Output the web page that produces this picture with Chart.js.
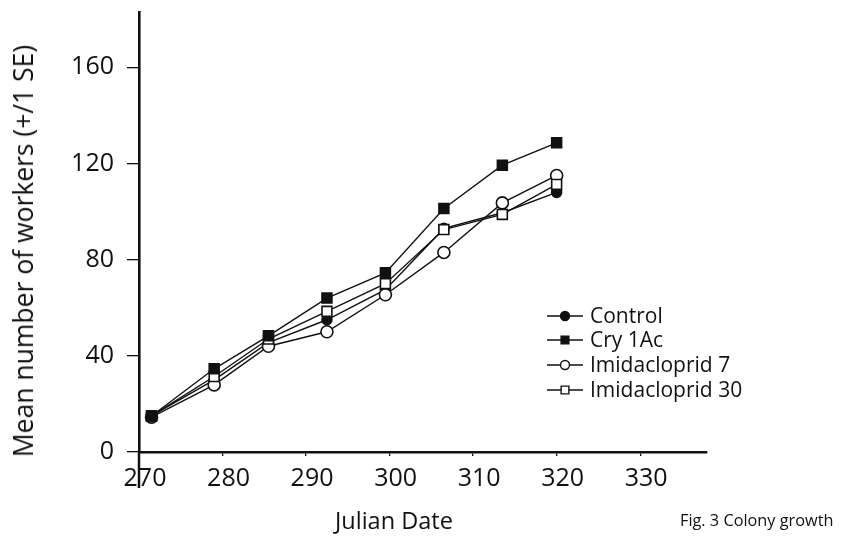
<!DOCTYPE html>
<html>
<head>
<meta charset="utf-8">
<script src="https://cdn.jsdelivr.net/npm/chart.js@4/dist/chart.umd.min.js"></script>
<style>
    html, body { margin: 0; padding: 0; background: #fff; }
    #wrap { position: relative; width: 841px; height: 543px; }
    #chart { position: absolute; left: 0; top: 0; }
    .caption { position: absolute; font-family: "Open Sans", sans-serif; color: #111; white-space: nowrap; }
    #xTitle { left: 335px; top: 504px; font-size: 23.5px; }
    #figNote { left: 680px; top: 509px; font-size: 16.3px; }
    #yTitle { left: 23px; top: 251px; font-size: 26.5px; transform: translate(-50%, -50%) rotate(-90deg); }
</style>
</head>
<body>
<div id="wrap">
    <canvas id="chart" width="841" height="543"></canvas>
    <div class="caption" id="yTitle">Mean number of workers (+/1 SE)</div>
    <div class="caption" id="xTitle">Julian Date</div>
    <div class="caption" id="figNote">Fig. 3 Colony growth</div>
</div>
<script>
// julian days of the counts
const dani = [271.5, 279, 285.5, 292.5, 299.5, 306.5, 313.5, 320];

// mean number of workers per treatment
const control = [15, 30, 45.5, 55, 67.5, 93, 99.5, 108];
const cry1Ac = [15, 34.6, 48.3, 64, 74.5, 101.3, 119.3, 128.6];
const imida7 = [14.5, 27.9, 44, 50, 65.4, 83, 103.6, 115];
const imida30 = [15, 31.4, 47, 58.5, 70, 92.5, 98.8, 111.3];

const nazivi = ["Control", "Cry 1Ac", "Imidacloprid 7", "Imidacloprid 30"];
const xTicks = [270, 280, 290, 300, 310, 320, 330];
const yTicks = [0, 40, 80, 120, 160];

const tacke = niz => niz.map((y, i) => ({ x: dani[i], y }));

const serija = (label, data, pointStyle, fill, radius, order) => ({
    label,
    data: tacke(data),
    order,
    borderColor: "#111",
    borderWidth: 1.4,
    pointStyle,
    pointRadius: radius,
    pointBackgroundColor: fill,
    pointBorderColor: "#111",
    pointBorderWidth: 1.6,
    tension: 0,
});

// legend drawn like the original: short line with the marker in the middle
const legendaPlugin = {
    id: "legenda",
    afterDraw(chart) {
        const ctx = chart.ctx;
        const x0 = 547, x1 = 583, xt = 590;
        const redovi = [316, 340, 365, 390];
        ctx.save();
        ctx.font = "21px 'Open Sans', sans-serif";
        ctx.textBaseline = "middle";
        chart.data.datasets.forEach((ds, i) => {
            const y = redovi[i];
            ctx.strokeStyle = "#111";
            ctx.lineWidth = 1.4;
            ctx.beginPath();
            ctx.moveTo(x0, y);
            ctx.lineTo(x1, y);
            ctx.stroke();
            ctx.fillStyle = ds.pointBackgroundColor;
            ctx.strokeStyle = "#111";
            ctx.lineWidth = 1.4;
            Chart.helpers.drawPoint(ctx, {
                pointStyle: ds.pointStyle,
                rotation: 0,
                radius: ds.pointStyle === "rect" ? 5.5 : 4.5,
                borderWidth: 1.4,
            }, (x0 + x1) / 2, y);
            ctx.fillStyle = "#111";
            ctx.fillText(ds.label, xt, y + 1);
        });
        ctx.restore();
    },
};

// the y axis line runs on below the x axis, through the 270 label
const produzetakPlugin = {
    id: "produzetak",
    afterDraw(chart) {
        const { ctx, scales } = chart;
        const x = scales.x.getPixelForValue(270);
        const y = scales.y.getPixelForValue(0);
        ctx.save();
        ctx.strokeStyle = "#111";
        ctx.lineWidth = 2.5;
        ctx.beginPath();
        ctx.moveTo(x, y);
        ctx.lineTo(x, y + 36);
        ctx.stroke();
        ctx.restore();
    },
};

Chart.defaults.font.family = "'Open Sans', sans-serif";
Chart.defaults.color = "#111";

new Chart(document.getElementById("chart"), {
    type: "line",
    data: {
        datasets: [
            serija(nazivi[0], control, "circle", "#111", 5, 3),
            serija(nazivi[1], cry1Ac, "rect", "#111", 7, 0),
            serija(nazivi[2], imida7, "circle", "#fff", 6, 2),
            serija(nazivi[3], imida30, "rect", "#fff", 7, 1),
        ],
    },
    options: {
        responsive: false,
        animation: false,
        layout: { padding: { top: 12, right: 134, left: 0, bottom: 0 } },
        plugins: {
            legend: { display: false },
            tooltip: { enabled: false },
        },
        scales: {
            x: {
                type: "linear",
                min: 270,
                max: 338,
                afterFit: s => { s.height = 91; s.paddingLeft = 0; s.paddingRight = 0; },
                afterBuildTicks: s => { s.ticks = xTicks.map(v => ({ value: v })); },
                border: { color: "#111", width: 2.6 },
                grid: { display: true, drawOnChartArea: false, drawTicks: true, tickLength: 4, color: "#111", lineWidth: 1.3 },
                ticks: { font: { size: 25 }, padding: 8, labelOffset: 6, color: "#111", maxRotation: 0 },
            },
            y: {
                type: "linear",
                min: 0,
                max: 183,
                afterFit: s => { s.width = 139; s.paddingTop = 0; s.paddingBottom = 0; },
                afterBuildTicks: s => { s.ticks = yTicks.map(v => ({ value: v })); },
                border: { color: "#111", width: 2.6 },
                grid: { display: true, drawOnChartArea: false, drawTicks: true, tickLength: 12, color: "#111", lineWidth: 1.3 },
                ticks: { font: { size: 25 }, padding: 13, color: "#111" },
            },
        },
    },
    plugins: [legendaPlugin, produzetakPlugin],
});
</script>
</body>
</html>
